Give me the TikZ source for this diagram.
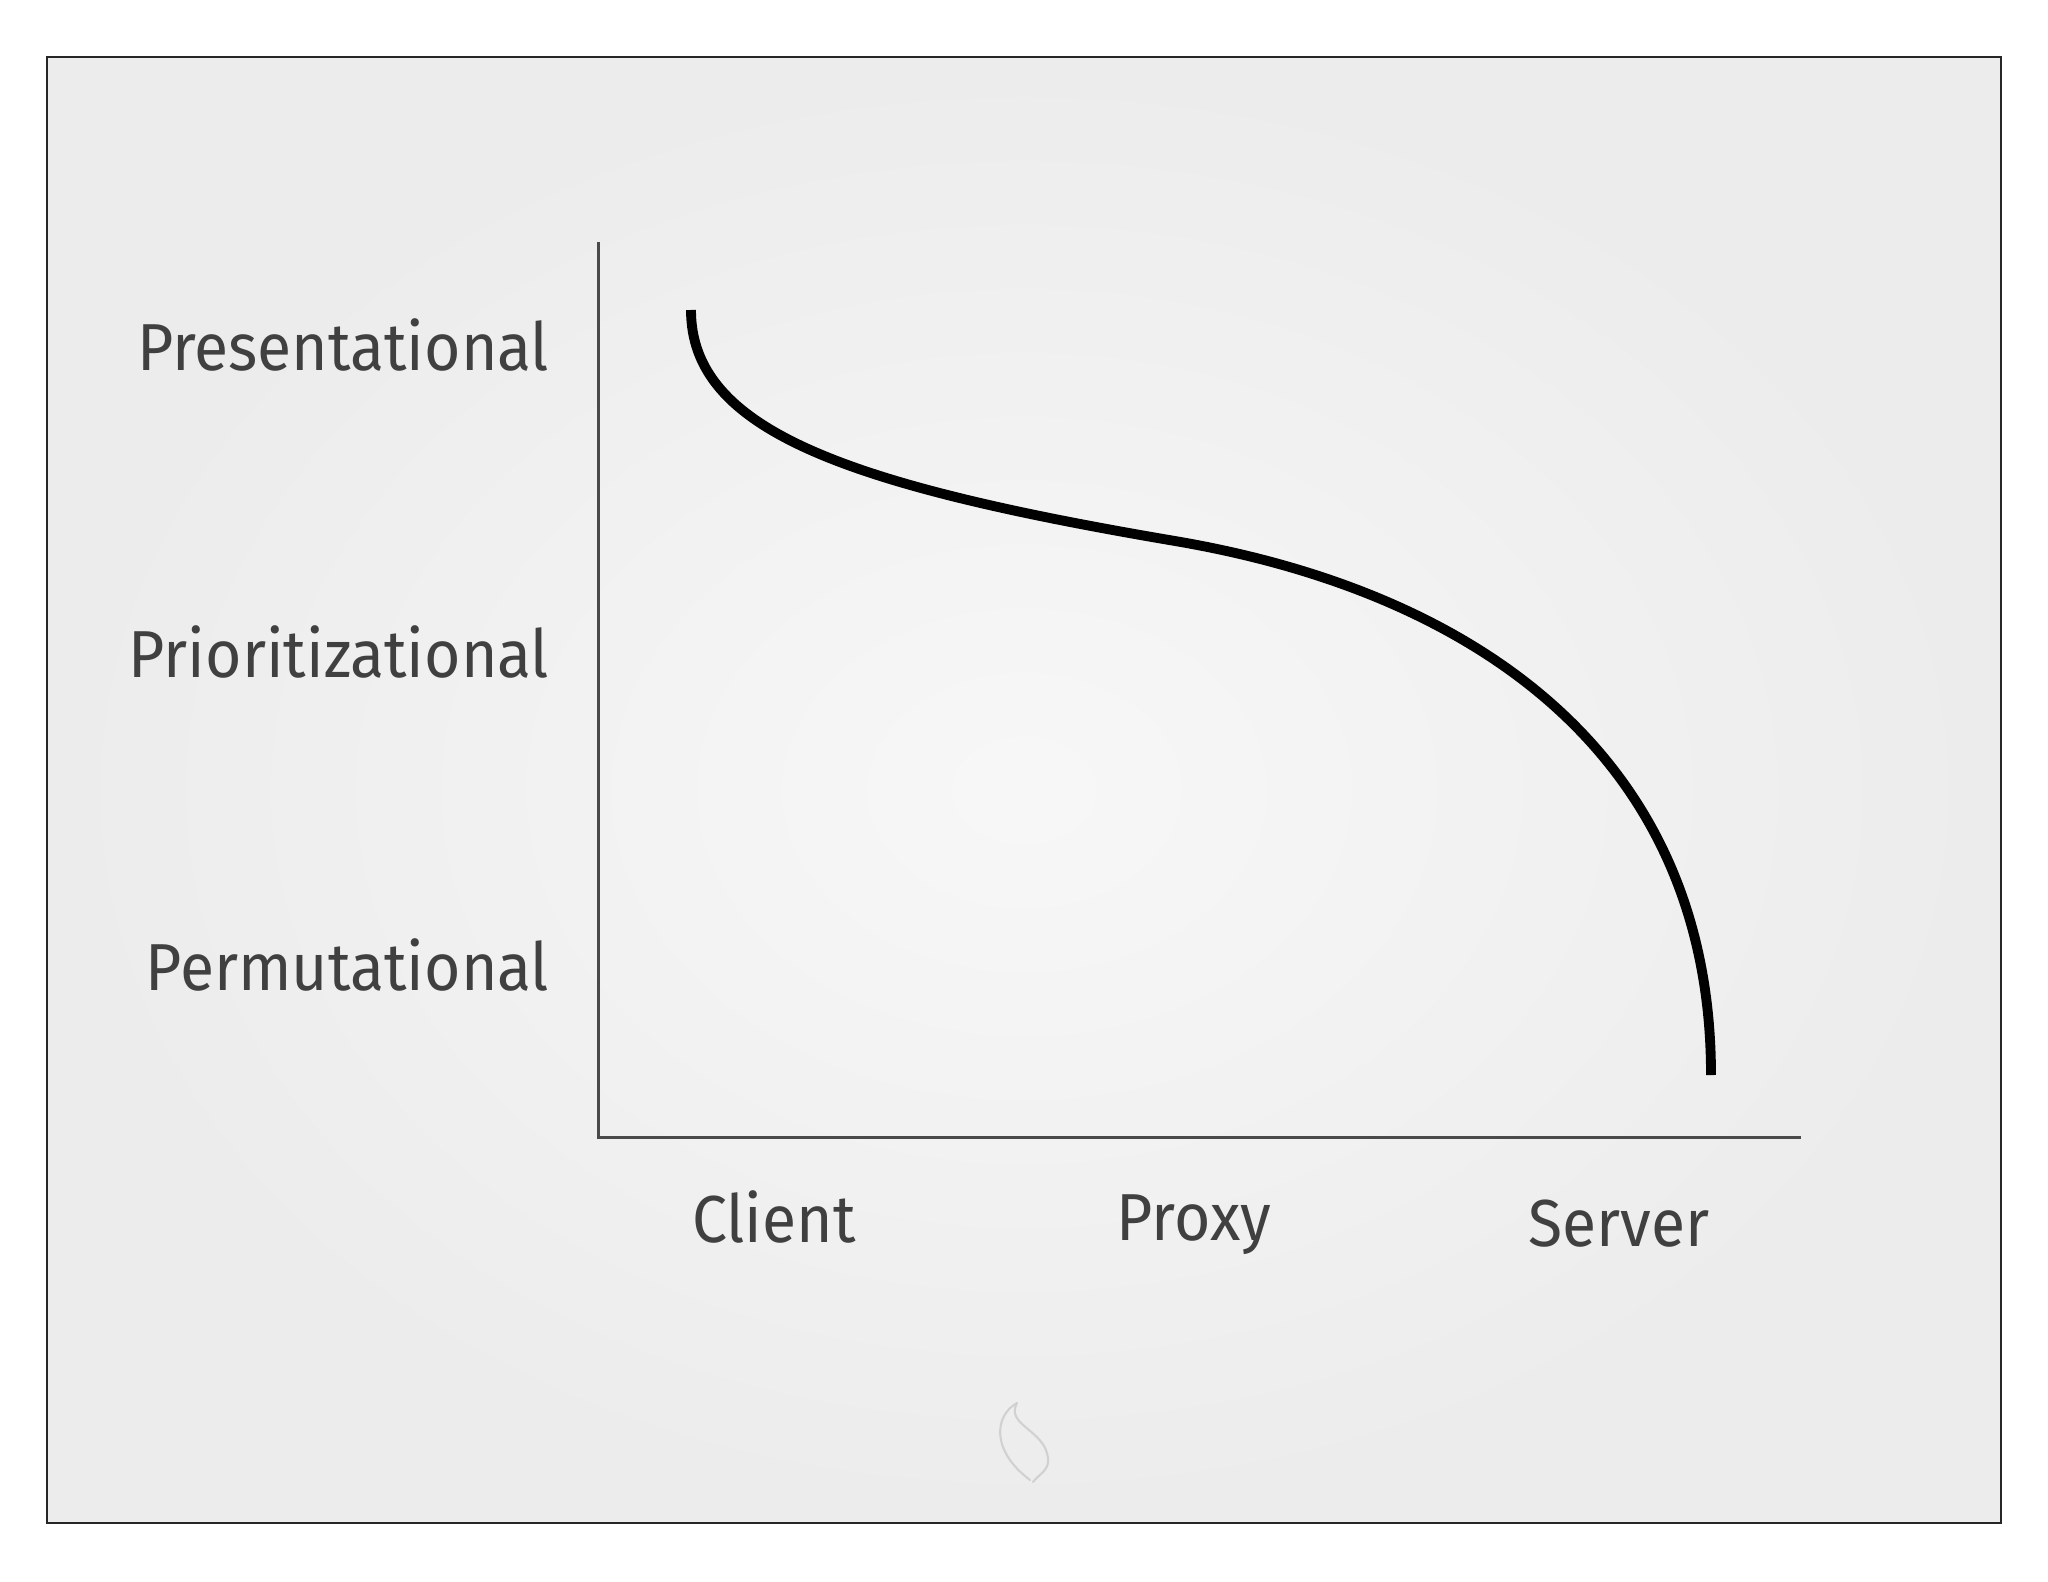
\documentclass[tikz,border=0pt]{standalone}
\usepackage{fontspec}
\newfontfamily\labelfont{Fira Sans}[FakeStretch=0.94]
\usepackage{tikz}

\definecolor{labelgray}{HTML}{404040}
\definecolor{axisgray}{HTML}{4A4A4A}

\begin{document}
\begin{tikzpicture}[x=0.01cm, y=-0.01cm,%
	every node/.style={inner sep=0pt, text=labelgray, font=\labelfont\fontsize{18.9}{22}\selectfont},
	axis/.style={draw=axisgray, line width=0.85pt},
	curve/.style={draw=black, line width=2.8pt, line cap=butt}]
	\useasboundingbox (0,0) rectangle (2048,1582);
	\fill[white] (0,0) rectangle (2048,1582);
	\shade[inner color=black!3, outer color=black!7.5] (47,57) rectangle (2001,1523);
	\draw[black!85, line width=0.5pt] (47,57) rectangle (2001,1523);

	% axes
	\coordinate (top) at (598,242);
	\coordinate (o) at (598,1137);
	\coordinate (end) at (1801,1137);
	\draw[axis] (top) -- (o) -- (end);

	% level labels
	\node (pres) [anchor=base east] at (550,370) {Presentational};
	\node (prio) [anchor=base east] at (550,677) {Prioritizational};
	\node (perm) [anchor=base east] at (550,990) {Permutational};

	% tier labels
	\node (client) [anchor=base] at (774,1242) {Client};
	\node (proxy) [anchor=base] at (1194,1240) {Proxy};
	\node (server) [anchor=base] at (1619,1246) {Server};

	% the curve
	\coordinate (a) at (691,310);
	\coordinate (b) at (1175,541);
	\coordinate (c) at (1711,1075);
	\draw[curve] (a) .. controls (691,430) and (845,485) .. (b)
		.. controls (1475,592) and (1711,755) .. (c);

	% faint mark
	\draw[black!18, line width=0.6pt, line cap=round]
		(1017,1403) .. controls (995,1415) and (990,1450) .. (1030,1480)
		(1017,1403) .. controls (1005,1425) and (1045,1430) .. (1048,1458)
		.. controls (1050,1470) and (1038,1475) .. (1033,1482);
\end{tikzpicture}
\end{document}
